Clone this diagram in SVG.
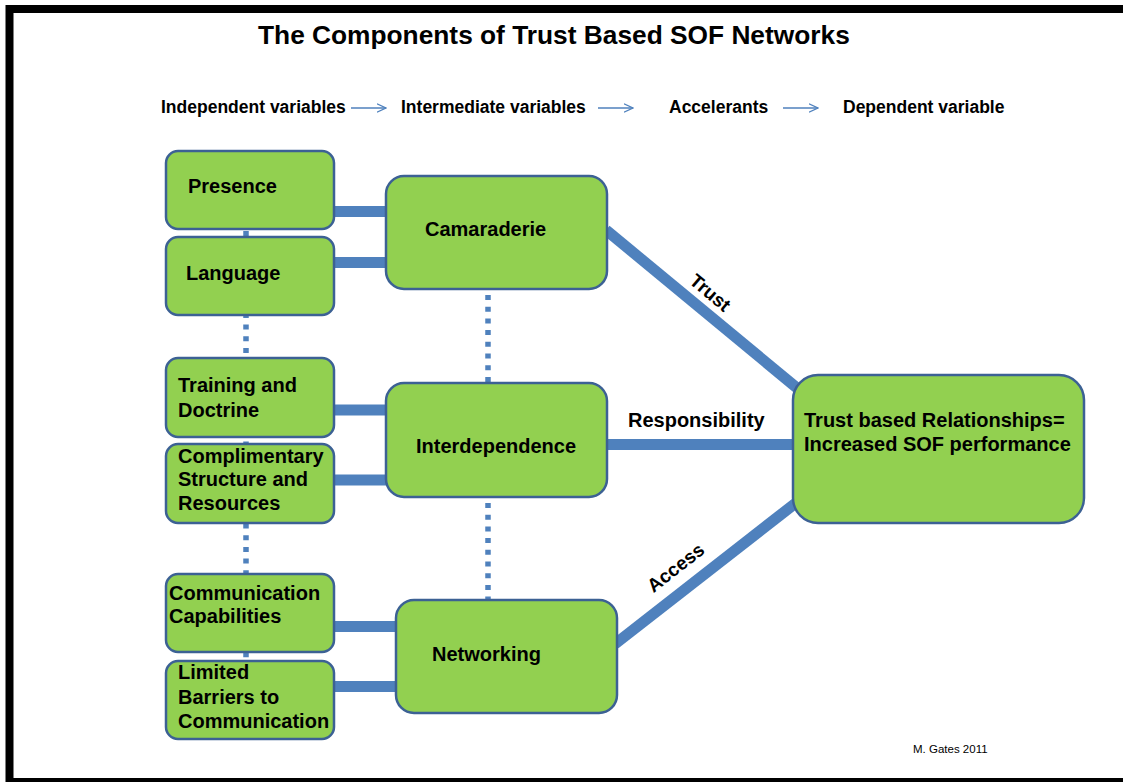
<svg xmlns="http://www.w3.org/2000/svg" width="1123" height="782" viewBox="0 0 1123 782">
<defs>
<style>
.node{fill:#92D050;stroke:#3C6194;stroke-width:2.5}
.lbl{font-family:"Liberation Sans",Arial,sans-serif;font-weight:bold;font-size:20px;fill:#000}
.hdr{font-family:"Liberation Sans",Arial,sans-serif;font-weight:bold;font-size:17.5px;fill:#000}
.bar{stroke:#4F81BD;stroke-width:11;fill:none}
.dot{stroke:#4F81BD;stroke-width:5.5;stroke-dasharray:5 6.7;fill:none}
.harrow{stroke:#4F81BD;stroke-width:1.3;fill:none}
.edge{font-family:"Liberation Sans",Arial,sans-serif;font-weight:bold;font-size:19px;fill:#000}
</style>
<marker id="open" viewBox="0 0 10 10" refX="9.5" refY="5" markerWidth="10" markerHeight="10" markerUnits="userSpaceOnUse" orient="auto">
<path d="M0.5,0.8 L9.5,5 L0.5,9.2" fill="none" stroke="#4F81BD" stroke-width="1.3"/>
</marker>
</defs>
<rect x="0" y="0" width="1123" height="782" fill="#fff"/>
<rect x="9.5" y="9" width="1130" height="773" fill="none" stroke="#000" stroke-width="8"/>

<text x="258" y="44" font-family="Liberation Sans,Arial,sans-serif" font-weight="bold" font-size="26.3px">The Components of Trust Based SOF Networks</text>

<g id="header">
<text class="hdr" x="161" y="113">Independent variables</text>
<text class="hdr" x="401" y="113">Intermediate variables</text>
<text class="hdr" x="669" y="113">Accelerants</text>
<text class="hdr" x="843" y="113">Dependent variable</text>
<line class="harrow" x1="351" y1="108" x2="386" y2="108" marker-end="url(#open)"/>
<line class="harrow" x1="598" y1="108" x2="633" y2="108" marker-end="url(#open)"/>
<line class="harrow" x1="783" y1="108" x2="818" y2="108" marker-end="url(#open)"/>
</g>

<g id="connectors">
<line class="dot" x1="246" y1="231" x2="246" y2="660"/>
<line class="dot" x1="488" y1="295" x2="488" y2="383"/>
<line class="dot" x1="488" y1="503" x2="488" y2="600"/>
<line class="bar" x1="334" y1="211.5" x2="387" y2="211.5"/>
<line class="bar" x1="334" y1="262.5" x2="387" y2="262.5"/>
<line class="bar" x1="334" y1="410" x2="387" y2="410"/>
<line class="bar" x1="334" y1="480" x2="387" y2="480"/>
<line class="bar" x1="334" y1="626.5" x2="397" y2="626.5"/>
<line class="bar" x1="334" y1="686.5" x2="397" y2="686.5"/>
<line class="bar" x1="606" y1="230" x2="797" y2="388"/>
<line class="bar" x1="606" y1="444.5" x2="794" y2="444.5"/>
<line class="bar" x1="615" y1="644" x2="797" y2="502"/>
<text class="edge" text-anchor="middle" transform="translate(710 293) rotate(40)" x="0" y="6">Trust</text>
<text class="lbl" x="628" y="427">Responsibility</text>
<text class="edge" text-anchor="middle" transform="translate(676 568) rotate(-38)" x="0" y="6">Access</text>
</g>

<g id="presence">
<rect class="node" x="166" y="151" width="168" height="78" rx="12"/>
<text class="lbl" x="188" y="193">Presence</text>
</g>
<g id="language">
<rect class="node" x="166" y="237" width="168" height="78" rx="12"/>
<text class="lbl" x="186" y="280">Language</text>
</g>
<g id="training">
<rect class="node" x="166" y="358" width="168" height="79" rx="12"/>
<text class="lbl" x="178" y="392">Training and</text>
<text class="lbl" x="178" y="417">Doctrine</text>
</g>
<g id="complimentary">
<rect class="node" x="166" y="444" width="168" height="79" rx="12"/>
<text class="lbl" x="178" y="463">Complimentary</text>
<text class="lbl" x="178" y="486">Structure and</text>
<text class="lbl" x="178" y="510">Resources</text>
</g>
<g id="communication">
<rect class="node" x="166" y="574" width="168" height="78" rx="12"/>
<text class="lbl" x="169" y="600">Communication</text>
<text class="lbl" x="169" y="623">Capabilities</text>
</g>
<g id="barriers">
<rect class="node" x="166" y="661" width="168" height="78" rx="12"/>
<text class="lbl" x="178" y="679">Limited</text>
<text class="lbl" x="178" y="704">Barriers to</text>
<text class="lbl" x="178" y="728">Communication</text>
</g>
<g id="camaraderie">
<rect class="node" x="386" y="176" width="221" height="113" rx="18"/>
<text class="lbl" x="425" y="236">Camaraderie</text>
</g>
<g id="interdependence">
<rect class="node" x="386" y="383" width="221" height="114" rx="18"/>
<text class="lbl" x="416" y="453">Interdependence</text>
</g>
<g id="networking">
<rect class="node" x="396" y="600" width="221" height="113" rx="18"/>
<text class="lbl" x="432" y="661">Networking</text>
</g>
<g id="outcome">
<rect class="node" x="793" y="375" width="291" height="148" rx="25"/>
<text class="lbl" x="804" y="427">Trust based Relationships=</text>
<text class="lbl" x="804" y="451">Increased SOF performance</text>
</g>

<text x="913" y="753" font-family="Liberation Sans,Arial,sans-serif" font-size="11.5px">M. Gates 2011</text>
</svg>
